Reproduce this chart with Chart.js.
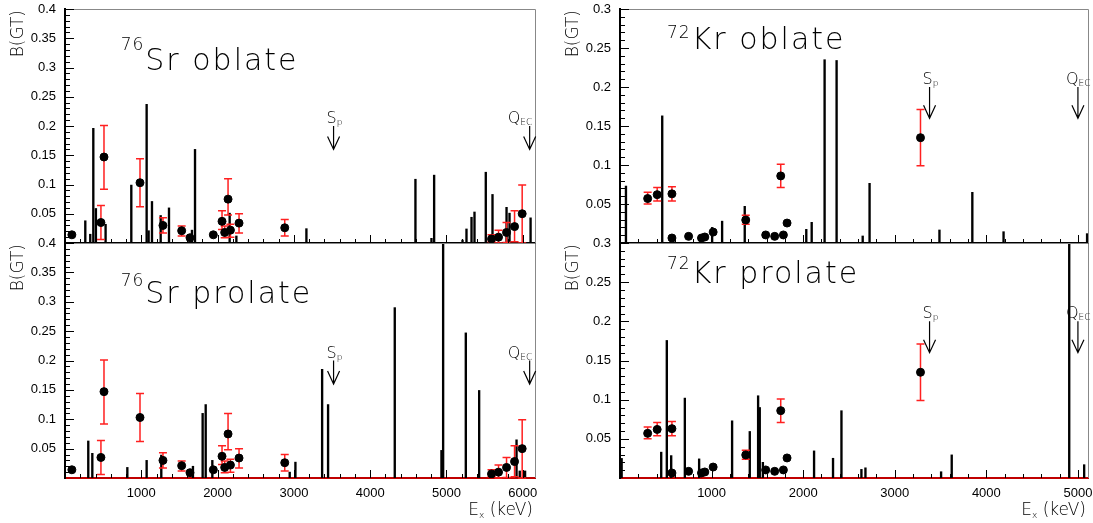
<!DOCTYPE html>
<html>
<head>
<meta charset="utf-8">
<script src="https://cdn.jsdelivr.net/npm/chart.js@4.4.1/dist/chart.umd.min.js"></script>
<style>
  body { margin: 0; background: #fff; width: 1093px; height: 523px; overflow: hidden; position: relative; }
  canvas { position: absolute; }
</style>
</head>
<body>
<canvas id="srObl" width="550" height="260" style="left:0px;top:0px"></canvas>
<canvas id="srPro" width="550" height="293" style="left:0px;top:230px"></canvas>
<canvas id="krObl" width="543" height="260" style="left:550px;top:0px"></canvas>
<canvas id="krPro" width="543" height="293" style="left:550px;top:230px"></canvas>
<script>
// experimental B(GT), 76Sr (keV, value, error low, error high)
const srExpE  = [90, 471, 511, 983, 1284, 1529, 1638, 1944, 2058, 2093, 2137, 2168, 2281, 2880, 5590, 5682, 5787, 5892, 5992];
const srExpB  = [0.014, 0.035, 0.147, 0.103, 0.030, 0.021, 0.009, 0.014, 0.037, 0.018, 0.075, 0.022, 0.034, 0.026, 0.007, 0.010, 0.018, 0.028, 0.050];
const srErrLo = [0.014, 0.006, 0.092, 0.062, 0.017, 0.012, 0.009, 0.014, 0.023, 0.009, 0.048, 0.010, 0.017, 0.012, 0.002, 0.000, 0.001, 0.002, 0.000];
const srErrHi = [0.014, 0.064, 0.201, 0.144, 0.043, 0.029, 0.009, 0.014, 0.055, 0.029, 0.110, 0.032, 0.050, 0.040, 0.014, 0.022, 0.035, 0.055, 0.099];

// experimental B(GT), 72Kr
const krExpE  = [302, 406, 567, 567, 749, 890, 926, 1017, 1373, 1591, 1689, 1755, 1784, 1824, 3281];
const krExpB  = [0.057, 0.062, 0.063, 0.0064, 0.0085, 0.0064, 0.0077, 0.014, 0.0295, 0.0103, 0.0085, 0.086, 0.0103, 0.0256, 0.135];
const krErrLo = [0.050, 0.054, 0.054, 0.0064, 0.0085, 0.0064, 0.0077, 0.014, 0.024, 0.0103, 0.0085, 0.071, 0.0103, 0.0256, 0.099];
const krErrHi = [0.065, 0.071, 0.072, 0.0064, 0.0085, 0.0064, 0.0077, 0.014, 0.0355, 0.0103, 0.0085, 0.101, 0.0103, 0.0256, 0.171];

// calculated strengths
const srOblE = [266, 331, 371, 405, 532, 869, 1070, 1096, 1140, 1254, 1363, 1664, 1704, 2158, 2246, 3164, 4593, 4803, 4838, 5210, 5262, 5328, 5367, 5515, 5603, 5787, 5826, 6102];
const srOblB = [0.038, 0.015, 0.196, 0.059, 0.032, 0.099, 0.237, 0.021, 0.071, 0.047, 0.060, 0.022, 0.160, 0.051, 0.012, 0.0245, 0.109, 0.008, 0.116, 0.005, 0.024, 0.044, 0.053, 0.121, 0.083, 0.061, 0.051, 0.043];

const srProE = [305, 358, 817, 1070, 1262, 1677, 1804, 1844, 1931, 2945, 3020, 3370, 3448, 4322, 4934, 4956, 5253, 5428, 5918, 5960, 6030];
const srProB = [0.063, 0.042, 0.018, 0.030, 0.039, 0.020, 0.110, 0.125, 0.030, 0.010, 0.027, 0.185, 0.125, 0.290, 0.047, 0.45, 0.247, 0.149, 0.065, 0.012, 0.012];

const krOblE = [65, 461, 1006, 1115, 1362, 2034, 2093, 2234, 2365, 2650, 2725, 3488, 3847, 4188, 5100];
const krOblB = [0.073, 0.163, 0.020, 0.028, 0.047, 0.0175, 0.0265, 0.235, 0.234, 0.009, 0.0765, 0.0167, 0.065, 0.0145, 0.012];

const krProE = [18, 450, 511, 559, 708, 864, 1224, 1417, 1508, 1526, 1560, 2119, 2326, 2418, 2636, 2680, 3506, 3622, 4905, 5068];
const krProB = [0.025, 0.033, 0.1756, 0.0286, 0.102, 0.0244, 0.073, 0.0594, 0.105, 0.090, 0.02, 0.0346, 0.0252, 0.0859, 0.011, 0.013, 0.008, 0.0295, 0.35, 0.017];

// thresholds (keV)
const srSp = 3520, srQec = 6090;
const krSp = 3380, krQec = 5000;

// axis tick labels
const srXTicks = [1000, 2000, 3000, 4000, 5000, 6000];
const krXTicks = [1000, 2000, 3000, 4000, 5000];
const srYTicks = [0.05, 0.1, 0.15, 0.2, 0.25, 0.3, 0.35, 0.4];
const krYTicks = [0.05, 0.1, 0.15, 0.2, 0.25, 0.3];

const thinFont = (size) => `200 ${size}px "DejaVu Sans", sans-serif`;
const tickFont = { family: 'Liberation Sans, Arial, sans-serif', size: 13 };

function makePanel(id, o) {
  const canvas = document.getElementById(id);

  const rootStyle = {
    id: 'rootStyle',
    beforeDatasetDraw(chart, args) {
      if (args.index !== 1) return;
      // red error bars under the black points
      const ctx = chart.ctx, xs = chart.scales.x, ys = chart.scales.y;
      ctx.save();
      ctx.strokeStyle = '#ff2020';
      ctx.lineWidth = 1.5;
      o.expE.forEach((e, i) => {
        if (o.errHi[i] - o.errLo[i] < 1e-6) return;
        const px = xs.getPixelForValue(e);
        const y1 = ys.getPixelForValue(o.errLo[i]);
        const y2 = ys.getPixelForValue(o.errHi[i]);
        ctx.beginPath();
        ctx.moveTo(px, y1); ctx.lineTo(px, y2);
        ctx.moveTo(px - 4, y1); ctx.lineTo(px + 4, y1);
        ctx.moveTo(px - 4, y2); ctx.lineTo(px + 4, y2);
        ctx.stroke();
      });
      ctx.restore();
    },
    afterDraw(chart) {
      const ctx = chart.ctx, xs = chart.scales.x, ys = chart.scales.y, a = chart.chartArea;
      ctx.save();
      // grey frame on top and right
      ctx.strokeStyle = '#888';
      ctx.lineWidth = 1;
      ctx.beginPath();
      ctx.moveTo(a.left, a.top + 0.5); ctx.lineTo(a.right + 0.5, a.top + 0.5); ctx.lineTo(a.right + 0.5, a.bottom);
      ctx.stroke();

      // inward ticks
      ctx.strokeStyle = '#000';
      ctx.beginPath();
      for (let v = 200; v < o.xMax; v += 200) {
        const px = Math.round(xs.getPixelForValue(v)) + 0.5;
        const len = v % 1000 === 0 ? 8 : 4;
        ctx.moveTo(px, a.bottom); ctx.lineTo(px, a.bottom - len);
      }
      for (let k = 1; k * 0.01 < o.yMax + 1e-9; k++) {
        const py = Math.round(ys.getPixelForValue(k * 0.01)) + 0.5;
        const len = k % 5 === 0 ? 9 : 5;
        ctx.moveTo(a.left, py); ctx.lineTo(a.left + len, py);
      }
      ctx.stroke();

      // panel title with mass number
      ctx.fillStyle = '#000';
      ctx.textBaseline = 'alphabetic';
      ctx.textAlign = 'left';
      ctx.letterSpacing = '1px';
      ctx.font = thinFont(17);
      ctx.fillText(o.mass, a.left + o.tx, a.top + o.supY);
      const mw = ctx.measureText(o.mass).width;
      ctx.letterSpacing = '2px';
      ctx.font = thinFont(30);
      ctx.fillText(o.name, a.left + o.tx + mw + 1, a.top + o.ty);
      ctx.letterSpacing = '0px';

      // threshold arrows
      const arrow = (e, label, sub, offset) => {
        const px = xs.getPixelForValue(e);
        const yTop = ys.getPixelForValue(0.2), yBot = ys.getPixelForValue(0.16);
        ctx.strokeStyle = '#000';
        ctx.lineWidth = 1.2;
        ctx.beginPath();
        ctx.moveTo(px, yTop); ctx.lineTo(px, yBot);
        ctx.moveTo(px - 6, yBot - 13); ctx.lineTo(px, yBot); ctx.lineTo(px + 6, yBot - 13);
        ctx.stroke();
        ctx.font = thinFont(16);
        const lw = ctx.measureText(label).width;
        const x0 = px - offset;
        ctx.fillText(label, x0, yTop - 3);
        ctx.font = thinFont(9);
        ctx.fillText(sub, x0 + lw, yTop - 1);
      };
      arrow(o.sp, 'S', 'p', 7);
      arrow(o.qec, 'Q', 'EC', o.qOff);

      // y axis title
      ctx.save();
      ctx.font = thinFont(17);
      ctx.translate(a.left - 46, a.top + 1);
      ctx.rotate(-Math.PI / 2);
      ctx.textAlign = 'right';
      ctx.textBaseline = 'middle';
      ctx.fillText('B(GT)', 0, 0);
      ctx.restore();

      // x axis title with subscript
      if (o.showX) {
        const y = a.bottom + 37;
        ctx.font = thinFont(17);
        const tail = ' (keV)';
        const wTail = ctx.measureText(tail).width;
        const wE = ctx.measureText('E').width;
        ctx.font = thinFont(9);
        const wx = ctx.measureText('x').width;
        const x = a.right - 2 - wTail - wx - wE;
        ctx.font = thinFont(17);
        ctx.fillText('E', x, y);
        ctx.font = thinFont(9);
        ctx.fillText('x', x + wE, y + 3);
        ctx.font = thinFont(17);
        ctx.fillText(tail, x + wE + wx, y);
      }
      ctx.restore();
    }
  };

  return new Chart(canvas, {
    type: 'bar',
    data: {
      datasets: [
        {
          type: 'bar',
          data: o.thE.map((e, i) => ({ x: e, y: o.thB[i] })),
          backgroundColor: '#000',
          barThickness: 1.7,
          order: 2
        },
        {
          type: 'scatter',
          data: o.expE.map((e, i) => ({ x: e, y: o.expB[i] })),
          backgroundColor: '#000',
          borderColor: '#000',
          pointRadius: 4,
          pointHoverRadius: 4,
          order: 1
        }
      ]
    },
    options: {
      responsive: false,
      animation: false,
      events: [],
      layout: { padding: { left: 0, right: o.padR, top: o.padT, bottom: 0 } },
      plugins: { legend: { display: false }, tooltip: { enabled: false } },
      scales: {
        x: {
          type: 'linear',
          min: 0,
          max: o.xMax,
          offset: false,
          grid: { display: false, drawTicks: false },
          border: { display: true, color: o.xLine, width: 2 },
          afterBuildTicks: s => { s.ticks = o.xTicks.map(v => ({ value: v })); },
          ticks: {
            display: o.showX,
            autoSkip: false,
            maxRotation: 0,
            padding: 8,
            color: '#000',
            font: tickFont,
            callback: v => String(v)
          },
          // fixed axis box, no extra room for overhanging labels
          afterFit: s => { s.height = o.xH; s.paddingLeft = 0; s.paddingRight = 0; }
        },
        y: {
          min: 0,
          max: o.yMax,
          grid: { display: false, drawTicks: false },
          border: { display: true, color: '#000', width: 2 },
          afterBuildTicks: s => { s.ticks = o.yTicks.map(v => ({ value: v })); },
          ticks: {
            autoSkip: false,
            padding: 9,
            color: '#000',
            font: tickFont,
            callback: v => String(v)
          },
          afterFit: s => { s.width = o.yW; s.paddingTop = 0; s.paddingBottom = 0; }
        }
      }
    },
    plugins: [rootStyle]
  });
}

makePanel('srObl', {
  thE: srOblE, thB: srOblB, expE: srExpE, expB: srExpB, errLo: srErrLo, errHi: srErrHi,
  sp: srSp, qec: srQec, qOff: 22, xMax: 6160, yMax: 0.4, xTicks: srXTicks, yTicks: srYTicks,
  mass: '76', name: 'Sr oblate', tx: 55.7, supY: 41, ty: 61,
  yW: 65, padR: 15, padT: 9, xH: 17, showX: false, xLine: '#000'
});
makePanel('srPro', {
  thE: srProE, thB: srProB, expE: srExpE, expB: srExpB, errLo: srErrLo, errHi: srErrHi,
  sp: srSp, qec: srQec, qOff: 22, xMax: 6160, yMax: 0.4, xTicks: srXTicks, yTicks: srYTicks,
  mass: '76', name: 'Sr prolate', tx: 55.7, supY: 43, ty: 60,
  yW: 65, padR: 15, padT: 13, xH: 45, showX: true, xLine: '#c00000'
});
makePanel('krObl', {
  thE: krOblE, thB: krOblB, expE: krExpE, expB: krExpB, errLo: krErrLo, errHi: krErrHi,
  sp: krSp, qec: krQec, qOff: 12, xMax: 5110, yMax: 0.3, xTicks: krXTicks, yTicks: krYTicks,
  mass: '72', name: 'Kr oblate', tx: 47, supY: 29, ty: 40,
  yW: 70, padR: 4, padT: 9, xH: 17, showX: false, xLine: '#000'
});
makePanel('krPro', {
  thE: krProE, thB: krProB, expE: krExpE, expB: krExpB, errLo: krErrLo, errHi: krErrHi,
  sp: krSp, qec: krQec, qOff: 12, xMax: 5110, yMax: 0.3, xTicks: krXTicks, yTicks: krYTicks,
  mass: '72', name: 'Kr prolate', tx: 47, supY: 26, ty: 40,
  yW: 70, padR: 4, padT: 13, xH: 45, showX: true, xLine: '#c00000'
});
</script>
</body>
</html>
